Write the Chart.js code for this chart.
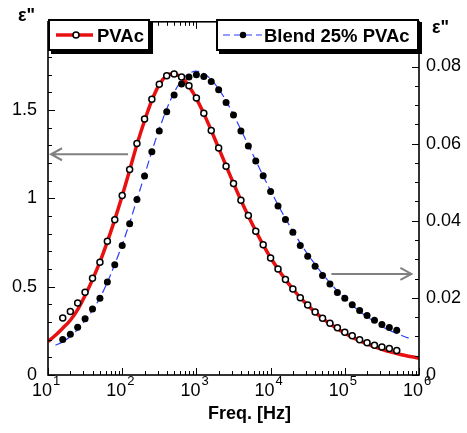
<!DOCTYPE html>
<html>
<head>
<meta charset="utf-8">
<script src="https://cdn.jsdelivr.net/npm/chart.js@4"></script>
<style>
  body { margin:0; background:#fff; }
  #wrap { position:relative; width:467px; height:433px; font-family:"Liberation Sans", Arial, sans-serif; }
  #wrap canvas { position:absolute; left:0; top:0; }
  .lbl { position:absolute; color:#000; font-weight:bold; white-space:nowrap; line-height:1; }
  .box { position:absolute; top:19px; height:32px; box-sizing:border-box; background:#fff;
         border:2px solid #000; box-shadow:3px 3px 0 #000; }
  .box svg { position:absolute; left:5px; top:7px; }
  .box span { position:absolute; top:6px; font-size:18.5px; font-weight:bold; line-height:1; }
</style>
</head>
<body>
<div id="wrap">
  <canvas id="c" width="467" height="433"></canvas>
  <div class="lbl" style="left:18px; top:6px; font-size:18px;">ε"</div>
  <div class="lbl" style="left:432px; top:18px; font-size:18px;">ε"</div>
  <div class="lbl" style="left:208px; top:404px; font-size:18px;">Freq. [Hz]</div>
  <div class="box" style="left:48px; width:102px;">
    <svg width="40" height="14"><line x1="1" y1="7" x2="38" y2="7" stroke="#e81010" stroke-width="3.5"/><circle cx="21" cy="7" r="3" fill="#fff" stroke="#000" stroke-width="1.5"/></svg>
    <span style="left:47px;">PVAc</span>
  </div>
  <div class="box" style="left:216px; width:203px;">
    <svg width="42" height="14"><line x1="0" y1="7" x2="39" y2="7" stroke="#2a3cff" stroke-width="1.2" stroke-dasharray="7,4"/><circle cx="20" cy="7" r="3.2" fill="#000"/></svg>
    <span style="left:46px;">Blend 25% PVAc</span>
  </div>
</div>
<script>
// measured points, 10 per decade (Hz)
const freqData = [15.8, 20.0, 25.1, 31.6, 39.8, 50.1, 63.1, 79.4,
  100, 126, 158, 200, 251, 316, 398, 501, 631, 794,
  1000, 1259, 1585, 1995, 2512, 3162, 3981, 5012, 6310, 7943,
  10000, 12589, 15849, 19953, 25119, 31623, 39811, 50119, 63096, 79433,
  100000, 125893, 158489, 199526, 251189, 316228, 398107, 501187];
const pvacData = [0.323, 0.360, 0.408, 0.468, 0.548, 0.638, 0.758, 0.879,
  1.017, 1.164, 1.311, 1.449, 1.561, 1.647, 1.694, 1.705, 1.688, 1.638,
  1.569, 1.482, 1.384, 1.285, 1.182, 1.085, 0.989, 0.903, 0.814, 0.737,
  0.662, 0.600, 0.541, 0.487, 0.438, 0.396, 0.357, 0.322, 0.293, 0.267,
  0.242, 0.222, 0.200, 0.183, 0.168, 0.159, 0.150, 0.139];
const blendData = [0.0092, 0.0106, 0.0124, 0.0146, 0.0171, 0.0199, 0.0241, 0.0286,
  0.0336, 0.0392, 0.0455, 0.0516, 0.0579, 0.0633, 0.0683, 0.0726, 0.0755, 0.0773,
  0.0779, 0.0774, 0.0761, 0.0740, 0.0707, 0.0674, 0.0633, 0.0594, 0.0555, 0.0517,
  0.0476, 0.0438, 0.0403, 0.0370, 0.0336, 0.0308, 0.0282, 0.0258, 0.0236, 0.0214,
  0.0199, 0.0182, 0.0167, 0.0154, 0.0142, 0.0131, 0.0123, 0.0116];

// fitted curves
const freqFit = [10, 12.6, 15.8, 20.0, 25.1, 31.6, 39.8, 50.1, 63.1, 79.4,
  100, 126, 158, 200, 251, 316, 398, 501, 631, 794,
  1000, 1259, 1585, 1995, 2512, 3162, 3981, 5012, 6310, 7943,
  10000, 12589, 15849, 19953, 25119, 31623, 39811, 50119, 63096, 79433,
  100000, 125893, 158489, 199526, 251189, 316228, 398107, 501187, 630957, 794328,
  1000000];
const pvacFit = [0.190, 0.225, 0.265, 0.310, 0.370, 0.450, 0.540, 0.640, 0.755, 0.880,
  1.015, 1.160, 1.305, 1.440, 1.555, 1.645, 1.695, 1.705, 1.685, 1.635,
  1.565, 1.480, 1.385, 1.285, 1.185, 1.085, 0.990, 0.900, 0.815, 0.737,
  0.664, 0.600, 0.540, 0.487, 0.438, 0.395, 0.356, 0.320, 0.290, 0.262,
  0.237, 0.214, 0.194, 0.176, 0.160, 0.146, 0.133, 0.122, 0.112, 0.103,
  0.096];
const blendFit = [null, 0.0077, 0.0086, 0.0100, 0.0118, 0.0141, 0.0168, 0.0200, 0.0240, 0.0287,
  0.0338, 0.0395, 0.0455, 0.0518, 0.0580, 0.0638, 0.0690, 0.0733, 0.0764, 0.0782,
  0.0788, 0.0782, 0.0766, 0.0742, 0.0711, 0.0675, 0.0636, 0.0596, 0.0556, 0.0516,
  0.0478, 0.0441, 0.0406, 0.0373, 0.0342, 0.0313, 0.0287, 0.0262, 0.0239, 0.0218,
  0.0199, 0.0181, 0.0165, 0.0151, 0.0138, 0.0126, 0.0116, 0.0108, 0.0100, 0.0093,
  null];

const decades = [10, 100, 1000, 10000, 100000, 1000000];
// arrows pointing to the axis each curve belongs to
const leftArrow  = { y: 1.25,   from: 120,   to: 10 };
const rightArrow = { y: 0.0262, from: 66000, to: 790000 };

const pts = (xs, ys) => xs.map((x, i) => ({ x, y: ys[i] }));
const isDecade = v => Math.abs(Math.log10(v) - Math.round(Math.log10(v))) < 1e-9;
const near = (v, step) => Math.abs(v / step - Math.round(v / step)) < 1e-6;

Chart.defaults.font.family = '"Liberation Sans", Arial, sans-serif';
Chart.defaults.font.size = 18;
Chart.defaults.color = '#000';

function arrow(ctx, x1, x2, y) {
  const dir = x2 < x1 ? 1 : -1;
  ctx.beginPath();
  ctx.moveTo(x1, y); ctx.lineTo(x2, y);
  ctx.moveTo(x2 + dir * 11, y - 6); ctx.lineTo(x2, y); ctx.lineTo(x2 + dir * 11, y + 6);
  ctx.stroke();
}

const frame = {
  id: 'frame',
  afterDraw(chart) {
    const { ctx, chartArea: a } = chart;
    const { x, y, y2 } = chart.scales;
    ctx.save();
    ctx.strokeStyle = '#000';
    ctx.lineWidth = 1;
    ctx.beginPath();
    x.ticks.forEach(t => {
      const px = Math.round(x.getPixelForValue(t.value)) + 0.5;
      const len = isDecade(t.value) ? 7 : 4;
      ctx.moveTo(px, a.bottom); ctx.lineTo(px, a.bottom - len);
      ctx.moveTo(px, a.top); ctx.lineTo(px, a.top + len);
    });
    y.ticks.forEach(t => {
      if (!near(t.value, 0.1)) return;
      const py = Math.round(y.getPixelForValue(t.value)) + 0.5;
      const len = near(t.value, 0.5) ? 7 : 4;
      ctx.moveTo(a.left, py); ctx.lineTo(a.left + len, py);
    });
    y2.ticks.forEach(t => {
      if (!near(t.value, 0.005)) return;
      const py = Math.round(y2.getPixelForValue(t.value)) + 0.5;
      const len = near(t.value, 0.02) ? 7 : 4;
      ctx.moveTo(a.right, py); ctx.lineTo(a.right - len, py);
    });
    ctx.stroke();
    ctx.lineWidth = 1.6;
    ctx.strokeRect(a.left, a.top, a.right - a.left, a.bottom - a.top);

    // exponents of the 10^n labels
    ctx.fillStyle = '#000';
    ctx.font = '18px "Liberation Sans", Arial';
    const w = ctx.measureText('10').width;
    ctx.font = '13px "Liberation Sans", Arial';
    ctx.textBaseline = 'top';
    decades.forEach(d => {
      const px = x.getPixelForValue(d) + x.options.ticks.labelOffset;
      ctx.fillText(String(Math.round(Math.log10(d))), px + w / 2 + 1, a.bottom);
    });

    ctx.strokeStyle = '#808080';
    ctx.lineWidth = 2;
    arrow(ctx, x.getPixelForValue(leftArrow.from), x.getPixelForValue(leftArrow.to) + 3, y.getPixelForValue(leftArrow.y));
    arrow(ctx, x.getPixelForValue(rightArrow.from), x.getPixelForValue(rightArrow.to), y2.getPixelForValue(rightArrow.y));
    ctx.restore();
  }
};

new Chart(document.getElementById('c'), {
  type: 'scatter',
  data: {
    datasets: [
      { label: 'PVAc', data: pts(freqData, pvacData), yAxisID: 'y', showLine: false,
        pointRadius: 3, pointBackgroundColor: '#fff', pointBorderColor: '#000', pointBorderWidth: 1.5 },
      { label: 'Blend 25% PVAc', data: pts(freqData, blendData), yAxisID: 'y2', showLine: false,
        pointRadius: 3.5, pointBackgroundColor: '#000', pointBorderColor: '#000', pointBorderWidth: 0 },
      { label: 'PVAc fit', data: pts(freqFit, pvacFit), yAxisID: 'y', showLine: true,
        borderColor: '#e81010', borderWidth: 3.5, pointRadius: 0, tension: 0.3 },
      { label: 'Blend fit', data: pts(freqFit, blendFit), yAxisID: 'y2', showLine: true,
        borderColor: '#2a3cff', borderWidth: 1.2, borderDash: [8, 4], pointRadius: 0, tension: 0.3 }
    ]
  },
  options: {
    responsive: false,
    animation: false,
    layout: { padding: { top: 19, left: 0, right: 0, bottom: 0 } },
    plugins: { legend: { display: false }, tooltip: { enabled: false } },
    scales: {
      x: {
        type: 'logarithmic', min: 10, max: 1000000,
        grid: { display: false, drawTicks: false }, border: { display: false },
        afterBuildTicks: s => {
          const t = [];
          decades.slice(0, -1).forEach(d => { for (let m = 1; m < 10; m++) t.push({ value: m * d }); });
          t.push({ value: 1000000 });
          s.ticks = t;
        },
        afterFit: s => { s.height = 58; },
        ticks: { autoSkip: false, maxRotation: 0, padding: 5, labelOffset: -6,
          callback: v => isDecade(v) ? '10' : '' }
      },
      y: {
        position: 'left', min: 0, max: 2,
        grid: { display: false, drawTicks: false }, border: { display: false },
        afterFit: s => { s.width = 48; },
        ticks: { stepSize: 0.1, autoSkip: false, padding: 11,
          callback: v => (near(v, 0.5) && v < 1.9) ? String(Math.round(v * 10) / 10) : '' }
      },
      y2: {
        position: 'right', min: 0, max: 0.0916,
        grid: { display: false, drawTicks: false }, border: { display: false },
        afterFit: s => { s.width = 48; },
        ticks: { stepSize: 0.005, autoSkip: false, padding: 7,
          callback: v => near(v, 0.02) ? String(Math.round(v * 100) / 100) : '' }
      }
    }
  },
  plugins: [frame]
});
</script>
</body>
</html>
